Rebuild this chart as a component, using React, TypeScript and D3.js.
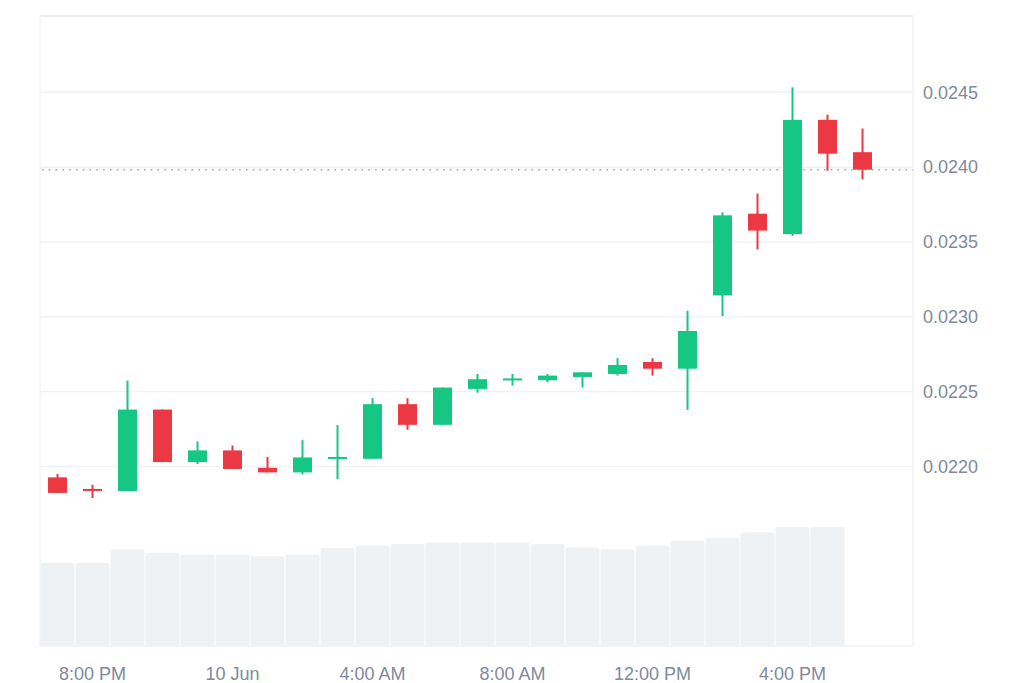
import * as d3 from 'd3';

// one candle per hour, 9 Jun 19:00 -> 10 Jun 18:00
const hours = [
  '9 Jun 19:00', '9 Jun 20:00', '9 Jun 21:00', '9 Jun 22:00', '9 Jun 23:00',
  '10 Jun 00:00', '10 Jun 01:00', '10 Jun 02:00', '10 Jun 03:00', '10 Jun 04:00',
  '10 Jun 05:00', '10 Jun 06:00', '10 Jun 07:00', '10 Jun 08:00', '10 Jun 09:00',
  '10 Jun 10:00', '10 Jun 11:00', '10 Jun 12:00', '10 Jun 13:00', '10 Jun 14:00',
  '10 Jun 15:00', '10 Jun 16:00', '10 Jun 17:00', '10 Jun 18:00',
];

const opens = [
  0.021927, 0.021845, 0.021836, 0.02238, 0.022029, 0.022107, 0.021991, 0.02196,
  0.022055, 0.022051, 0.022416, 0.022278, 0.022518, 0.02258, 0.022576, 0.022598,
  0.022618, 0.022698, 0.022653, 0.023143, 0.023689, 0.023553, 0.024316, 0.0241,
];
const highs = [
  0.021949, 0.021878, 0.022573, 0.02238, 0.022167, 0.02214, 0.022063, 0.022176,
  0.022276, 0.022456, 0.022456, 0.022527, 0.022618, 0.022618, 0.022618, 0.022629,
  0.022723, 0.022723, 0.02304, 0.023698, 0.023823, 0.024533, 0.024351, 0.024258,
];
const lows = [
  0.021823, 0.021789, 0.021836, 0.022029, 0.022016, 0.021983, 0.02196, 0.021947,
  0.021916, 0.022051, 0.022245, 0.022278, 0.022493, 0.02254, 0.022563, 0.022527,
  0.022607, 0.022607, 0.022378, 0.023005, 0.02345, 0.02354, 0.023976, 0.023918,
];
const closes = [
  0.021823, 0.021841, 0.02238, 0.022029, 0.022107, 0.021983, 0.02196, 0.02206,
  0.022058, 0.022416, 0.022278, 0.022527, 0.022583, 0.022583, 0.022607, 0.022629,
  0.022678, 0.022653, 0.022905, 0.023678, 0.023576, 0.024316, 0.02409, 0.023983,
];
// volume (millions), last hour not yet reported
const volumes = [
  8.27, 8.27, 9.6, 9.27, 9.1, 9.1, 8.93, 9.1, 9.77, 10.0, 10.13, 10.3,
  10.3, 10.3, 10.13, 9.8, 9.63, 10.0, 10.5, 10.77, 11.3, 11.83, 11.83,
];

const priceTicks = [0.022, 0.0225, 0.023, 0.0235, 0.024, 0.0245];
const timeTicks = [
  { hour: '9 Jun 20:00', label: '8:00 PM' },
  { hour: '10 Jun 00:00', label: '10 Jun' },
  { hour: '10 Jun 04:00', label: '4:00 AM' },
  { hour: '10 Jun 08:00', label: '8:00 AM' },
  { hour: '10 Jun 12:00', label: '12:00 PM' },
  { hour: '10 Jun 16:00', label: '4:00 PM' },
];

const width = 1024;
const height = 683;
const left = 40;
const right = 913;
const top = 16;
const bottom = 646;

const up = '#16c784';
const down = '#ea3943';
const grid = '#eff2f5';
const textColor = '#808a9d';
const font = '"Liberation Sans", Arial, Helvetica, sans-serif';

export default function App() {
  const x = d3.scaleBand<string>().domain(hours).range([left, 880]).padding(0);
  const y = d3.scaleLinear().domain([0.0208, 0.02501]).range([bottom, top]);
  const v = d3.scaleLinear().domain([0, d3.max(volumes) as number]).range([bottom, 527]);
  const bw = x.bandwidth();
  const bodyW = 19;
  const fmt = d3.format('.4f');
  const last = closes[closes.length - 1];

  const volPath = (i: number) => {
    const x0 = (x(hours[i]) as number) + 0.5;
    const x1 = x0 + bw - 1;
    const y0 = v(volumes[i]);
    const r = 2.5;
    return `M${x0},${bottom}V${y0 + r}Q${x0},${y0} ${x0 + r},${y0}H${x1 - r}Q${x1},${y0} ${x1},${y0 + r}V${bottom}Z`;
  };

  return (
    <svg
      width={width}
      height={height}
      style={{ position: 'absolute', left: 0, top: 0, display: 'block', background: '#fff' }}
      fontFamily={font}
    >
      {/* volume */}
      {volumes.map((_, i) => (
        <path key={'v' + i} d={volPath(i)} fill={grid} />
      ))}

      {/* frame + grid */}
      <line x1={left} x2={right} y1={top} y2={top} stroke="#e6e8ec" strokeWidth={1.5} />
      <line x1={left} x2={left} y1={top} y2={bottom} stroke={grid} strokeWidth={1.5} />
      <line x1={right} x2={right} y1={top} y2={bottom} stroke={grid} strokeWidth={1.5} />
      <line x1={left} x2={right} y1={bottom} y2={bottom} stroke={grid} strokeWidth={1.5} />
      {priceTicks.map((t) => (
        <line key={'g' + t} x1={left} x2={right} y1={y(t)} y2={y(t)} stroke={grid} strokeWidth={1.5} />
      ))}

      {/* current price */}
      <line
        x1={left + 2}
        x2={right}
        y1={y(last)}
        y2={y(last)}
        stroke="#9aa1ae"
        strokeWidth={1.5}
        strokeDasharray="1.5 5.3"
      />

      {/* candles */}
      {hours.map((h, i) => {
        const cx = (x(h) as number) + bw / 2;
        const isUp = closes[i] >= opens[i];
        const c = isUp ? up : down;
        const yTop = y(Math.max(opens[i], closes[i]));
        const yBot = y(Math.min(opens[i], closes[i]));
        const bh = Math.max(yBot - yTop, 2);
        return (
          <g key={h}>
            <line x1={cx} x2={cx} y1={y(highs[i])} y2={y(lows[i])} stroke={c} strokeWidth={2} />
            <rect x={cx - bodyW / 2} y={yTop - (bh - (yBot - yTop)) / 2} width={bodyW} height={bh} fill={c} />
          </g>
        );
      })}

      {/* price axis */}
      {priceTicks.map((t) => (
        <text key={'t' + t} x={923} y={y(t)} dy="0.35em" fontSize={18} fill={textColor}>
          {fmt(t)}
        </text>
      ))}

      {/* time axis */}
      {timeTicks.map((t) => (
        <text
          key={t.label}
          x={(x(t.hour) as number) + bw / 2}
          y={680}
          textAnchor="middle"
          fontSize={18}
          fill={textColor}
        >
          {t.label}
        </text>
      ))}
    </svg>
  );
}
